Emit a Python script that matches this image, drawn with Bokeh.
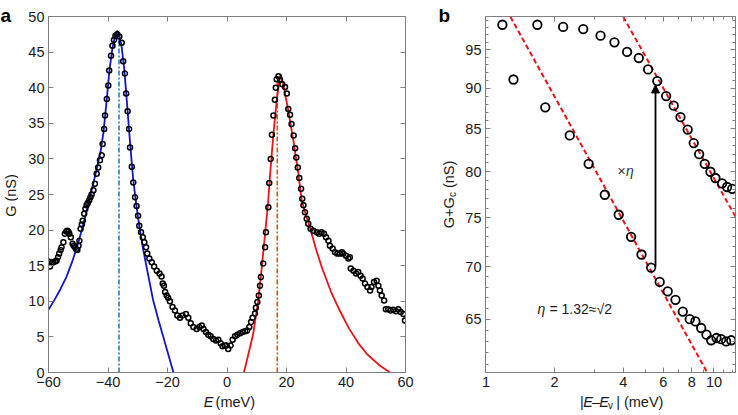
from math import pi, log10
from bokeh.plotting import figure
from bokeh.layouts import row, column
from bokeh.models import (Range1d, LinearAxis, LogAxis, FixedTicker, Label, Arrow,
                          NormalHead, CustomJSTickFormatter)
from bokeh.embed import file_html
from bokeh.resources import INLINE

FONT = "Liberation Sans"

# ---------------- panel a data ----------------
a_E = [-60.0, -59.5, -58.9, -58.4, -57.8, -57.3, -56.8, -56.4, -55.9, -55.6, -55.0, -54.5,
       -54.0, -53.7, -53.3, -53.0, -52.5, -51.9, -51.5, -51.1, -50.7, -50.3, -49.9, -49.6,
       -49.2, -48.8, -48.5, -48.0, -47.6, -47.2, -46.8, -46.3, -45.9, -45.5, -44.9, -44.4,
       -43.8, -43.3, -42.7, -42.1, -41.8, -41.3, -41.0, -40.4, -39.9, -39.6, -39.0, -38.5,
       -38.0, -37.5, -36.9, -36.2, -35.4, -34.9, -34.3, -33.9, -33.4, -32.9, -32.6, -32.0,
       -31.5, -30.9, -30.4, -29.9, -29.5, -28.9, -28.3, -27.8, -27.2, -26.8, -26.1, -25.3,
       -24.5, -23.6, -22.7, -22.0, -21.6, -21.2, -20.8, -20.3, -19.8, -19.2, -18.3, -17.5,
       -16.7, -15.8, -14.9, -13.8, -13.0, -12.2, -11.3, -10.2, -9.3, -8.5, -7.9, -7.1,
       -6.3, -5.5, -4.6, -3.7, -2.9, -2.1, -1.5, -0.7, -0.1, 0.4, 1.2, 1.9,
       2.7, 3.5, 4.4, 5.3, 6.1, 6.8, 7.5, 8.1, 8.6, 9.4, 9.7, 10.2,
       10.7, 11.1, 11.4, 12.2, 12.8, 13.1, 13.9, 14.2, 14.7, 15.1, 15.6, 16.1,
       16.4, 16.7, 17.3, 17.8, 18.6, 19.5, 20.1, 20.6, 21.2, 21.7, 22.4, 22.9,
       23.3, 23.8, 24.3, 24.9, 25.3, 25.7, 26.2, 26.8, 27.3, 28.1, 29.0, 30.2,
       31.0, 31.8, 32.6, 33.3, 34.1, 34.6, 35.5, 36.3, 37.1, 38.0, 38.6, 39.1,
       40.0, 40.8, 41.3, 41.6, 42.5, 43.4, 44.1, 44.9, 45.6, 46.4, 47.2, 48.1,
       48.6, 49.4, 50.3, 50.9, 51.4, 52.0, 52.8, 53.4, 54.2, 55.0, 55.9, 56.8,
       57.6, 58.4, 59.3, 59.8]
a_G = [15.6, 14.9, 15.4, 15.5, 15.6, 15.7, 16.2, 16.7, 17.2, 17.6, 18.3, 19.5,
       19.8, 19.9, 19.8, 19.5, 19.0, 18.1, 17.8, 17.6, 17.3, 17.2, 17.8, 18.5,
       20.2, 20.8, 21.3, 22.3, 23.0, 23.5, 23.8, 24.2, 24.6, 25.0, 25.6, 26.5,
       27.9, 28.8, 29.8, 30.5, 32.1, 34.2, 36.1, 38.4, 40.3, 42.4, 44.5, 45.9,
       46.7, 47.3, 47.5, 47.2, 46.3, 43.7, 42.0, 39.2, 36.7, 34.2, 31.6, 28.9,
       26.7, 24.6, 23.4, 22.0, 20.6, 19.7, 19.0, 18.3, 17.6, 16.7, 16.0, 15.5,
       14.9, 14.3, 13.9, 13.5, 12.5, 12.2, 11.3, 10.8, 10.5, 10.0, 9.2, 8.7,
       8.0, 7.7, 8.0, 8.2, 7.7, 6.9, 6.4, 6.1, 6.4, 6.6, 6.1, 5.7,
       5.3, 5.1, 4.7, 4.5, 4.6, 4.1, 3.7, 3.8, 3.8, 3.3, 3.8, 4.6,
       5.1, 5.3, 5.5, 5.7, 5.8, 5.9, 6.4, 7.1, 7.7, 8.3, 9.1, 9.9,
       10.8, 12.2, 13.4, 15.3, 17.6, 19.7, 23.2, 26.6, 30.0, 33.4, 36.1, 38.3,
       40.0, 41.2, 41.6, 41.1, 40.5, 40.1, 39.2, 37.0, 36.2, 34.9, 33.3, 31.5,
       30.2, 28.8, 27.3, 25.8, 24.4, 23.5, 22.5, 21.6, 20.9, 20.2, 19.9, 19.7,
       19.5, 19.7, 19.5, 19.0, 18.5, 17.8, 17.4, 16.9, 16.7, 16.7, 16.9, 16.7,
       16.4, 16.0, 16.2, 14.6, 14.3, 13.9, 14.1, 13.6, 13.2, 12.5, 12.0, 11.5,
       12.0, 12.7, 12.9, 12.2, 11.5, 10.8, 10.1, 8.9, 8.9, 8.7, 8.8, 8.6,
       8.9, 8.5, 8.2, 7.3]

blue_fit_E = [-60.0, -58.0, -56.0, -54.0, -52.0, -50.0, -48.0, -46.0, -44.0, -42.5, -41.5,
              -40.5, -39.5, -38.5, -37.6, -36.9, -36.3, -35.5, -34.5, -33.5, -32.5, -31.5,
              -30.5, -29.5, -28.1, -26.5, -24.8, -23.0, -21.4, -19.7, -18.0]
blue_fit_G = [8.8, 10.2, 11.7, 13.4, 15.6, 18.2, 21.3, 24.8, 28.2, 31.0, 33.8,
              38.0, 42.5, 45.6, 47.3, 48.0, 47.6, 46.0, 42.5, 37.2, 31.8, 27.0,
              23.6, 20.6, 17.1, 13.7, 10.1, 7.3, 5.0, 2.5, 0.0]
red_fit_E = [5.7, 7.2, 8.8, 10.5, 11.7, 12.8, 13.8, 14.5, 15.6, 16.7, 17.5, 18.0,
             18.9, 20.6, 22.3, 24.0, 25.1, 26.5, 28.0, 30.0, 32.0, 35.0, 38.0, 41.0,
             44.0, 47.0, 51.0, 54.8]
red_fit_G = [0.0, 2.6, 5.4, 10.1, 14.8, 19.5, 23.8, 27.9, 33.5, 38.2, 40.6, 41.9,
             40.5, 36.8, 32.6, 27.9, 24.2, 22.2, 20.2, 17.2, 14.6, 11.3, 8.6, 6.2,
             4.2, 2.6, 1.1, 0.0]
blue_vline_E = [-36.3, -36.3]
blue_vline_G = [0.0, 47.6]
red_vline_E = [16.9, 16.9]
red_vline_G = [0.0, 41.0]

a_xticks = [-60, -40, -20, 0, 20, 40, 60]
a_yticks = [0, 5, 10, 15, 20, 25, 30, 35, 40, 45, 50]

# ---------------- panel b data ----------------
b_upper_x = [1.18, 1.68, 2.18, 2.67, 3.18, 3.66, 4.16, 4.68, 5.14, 5.64, 6.17, 6.66,
             7.13, 7.67, 8.15, 8.61, 9.11, 9.65, 10.15, 10.86, 11.42, 12.02]
b_upper_y = [98.4, 98.4, 98.1, 97.8, 96.9, 96.0, 94.7, 93.9, 92.4, 90.9, 89.0, 87.8,
             86.4, 84.9, 83.3, 82.0, 80.9, 80.0, 79.3, 78.7, 78.3, 78.1]
b_lower_x = [1.32, 1.82, 2.33, 2.82, 3.32, 3.82, 4.33, 4.81, 5.30, 5.78, 6.27, 6.78,
             7.30, 7.83, 8.29, 8.79, 9.27, 9.72, 10.26, 10.75, 11.31, 11.90]
b_lower_y = [91.1, 87.6, 84.2, 80.9, 77.45, 75.3, 73.0, 71.2, 69.9, 68.5, 67.6, 66.8,
             65.7, 65.0, 64.8, 64.2, 63.6, 63.1, 63.3, 63.2, 63.0, 63.1]
b_fit_lower_x = [1.28, 9.34]
b_fit_lower_y = [99.5, 60.3]
b_fit_upper_x = [4.0, 12.43]
b_fit_upper_y = [99.5, 75.1]
b_arrow_x = 5.54
b_arrow_y0 = 70.0
b_arrow_y1 = 90.4

b_xticks = [1, 2, 4, 6, 8, 10]
b_xminor = [3, 5, 7, 9, 11, 12]
b_yticks = [65, 70, 75, 80, 85, 90, 95]
b_yminor = [v for v in range(61, 100) if v % 5 != 0]

AXC = "#7f7f7f"
TXT = "#1a1a1a"
D = 8  # canvas origin of the whole layout sits at (-8, -8) in page pixels


def style_axis(ax, ticks, minor=None, labels=True):
    ax.ticker = FixedTicker(ticks=ticks, minor_ticks=minor or [])
    ax.axis_line_color = AXC
    ax.major_tick_line_color = AXC
    ax.minor_tick_line_color = AXC
    ax.major_tick_in = 5
    ax.major_tick_out = 0
    ax.minor_tick_in = 3
    ax.minor_tick_out = 0
    ax.major_label_text_font = FONT
    ax.major_label_text_font_size = "14.5px"
    ax.major_label_text_color = TXT
    ax.major_label_standoff = 4
    if not labels:
        ax.formatter = CustomJSTickFormatter(code="return ''")
        ax.major_label_standoff = 0
        ax.major_label_text_font_size = "1px"


def text_fig(ox, oy, w, h):
    f = figure(width=w, height=h, x_range=Range1d(0, w), y_range=Range1d(0, h),
               output_backend="svg", toolbar_location=None, min_border=0,
               x_axis_location=None, y_axis_location=None)
    f.outline_line_color = None
    f.grid.visible = False
    f.background_fill_color = "white"
    f.border_fill_color = "white"
    f._ox, f._oy, f._h = ox, oy, h
    return f


def put(f, X, Y, text, size="14.5px", style="normal", align="left",
        baseline="middle", angle=0.0, color=TXT):
    f.add_layout(Label(x=X - f._ox, y=f._h - (Y - f._oy), text=text, text_font=FONT,
                       text_font_size=size, text_font_style=style, text_align=align,
                       text_baseline=baseline, angle=angle, text_color=color))


# ---------------- panel a ----------------
MA_X, MA_W = 18, 417
A_L, A_R, A_T, A_B = 48, 405, 16, 372
MA_H = 402
pa = figure(width=MA_W, height=MA_H, x_range=Range1d(-60, 60), y_range=Range1d(0, 50),
            output_backend="svg", toolbar_location=None,
            min_border_left=A_L - MA_X, min_border_right=MA_X + MA_W - A_R,
            min_border_top=A_T + D, min_border_bottom=MA_H - (A_B + D))
pa.grid.visible = False
pa.outline_line_color = AXC
style_axis(pa.xaxis[0], a_xticks)
style_axis(pa.yaxis[0], a_yticks)
ta = LinearAxis()
style_axis(ta, a_xticks, labels=False)
pa.add_layout(ta, "above")
ra = LinearAxis()
style_axis(ra, a_yticks, labels=False)
pa.add_layout(ra, "right")

pa.line(blue_vline_E, blue_vline_G, line_color="#1f7fc4", line_width=1.6, line_dash="5 2 2 2")
pa.line(red_vline_E, red_vline_G, line_color="#d9541a", line_width=1.6, line_dash="5 2 2 2")
pa.line(blue_fit_E, blue_fit_G, line_color="#1414c8", line_width=1.8)
pa.line(red_fit_E, red_fit_G, line_color="#e8141c", line_width=1.8)
pa.scatter(a_E, a_G, marker="circle", size=5, fill_color=None, line_color="black",
           line_width=1.5)

# text strips of panel a
sa = text_fig(-D, -D, MA_X + D, 415 + D)
put(sa, 0, 15, "a", size="19px", style="bold", baseline="alphabetic", color="black")
put(sa, 10, 195, "G (nS)", align="center", angle=pi / 2)
ba = text_fig(MA_X, MA_H - D, MA_W, 415 - (MA_H - D))
put(ba, 199.4, 401, "E", style="italic")
put(ba, 213.2, 401, "(meV)")

# ---------------- panel b ----------------
SB_X = 435
MB_X, MB_W = 460, 278
B_L, B_R, B_T, B_B = 485, 735, 16, 372
bx0, bx1 = 0.995, 12.43
by0, by1 = 60.3, 99.55
pb = figure(width=MB_W, height=MA_H, x_axis_type="log", y_axis_type="log",
            x_range=Range1d(bx0, bx1), y_range=Range1d(by0, by1),
            output_backend="svg", toolbar_location=None,
            min_border_left=B_L - MB_X, min_border_right=MB_X + MB_W - B_R,
            min_border_top=B_T + D, min_border_bottom=MA_H - (B_B + D))
pb.grid.visible = False
pb.outline_line_color = AXC
style_axis(pb.xaxis[0], b_xticks, b_xminor)
style_axis(pb.yaxis[0], b_yticks, b_yminor)
tb = LogAxis()
style_axis(tb, b_xticks, b_xminor, labels=False)
pb.add_layout(tb, "above")
rb = LogAxis()
style_axis(rb, b_yticks, b_yminor, labels=False)
pb.add_layout(rb, "right")

pb.line(b_fit_lower_x, b_fit_lower_y, line_color="#e8141c", line_width=2, line_dash="5 3")
pb.line(b_fit_upper_x, b_fit_upper_y, line_color="#e8141c", line_width=2, line_dash="5 3")
pb.scatter(b_upper_x, b_upper_y, marker="circle", size=8.5, fill_color=None,
           line_color="black", line_width=1.8)
pb.scatter(b_lower_x, b_lower_y, marker="circle", size=8.5, fill_color=None,
           line_color="black", line_width=1.8)
pb.add_layout(Arrow(end=NormalHead(size=8, fill_color="black", line_color="black", line_width=1),
                    x_start=b_arrow_x, y_start=b_arrow_y0, x_end=b_arrow_x, y_end=b_arrow_y1,
                    line_color="black", line_width=1.8))


def b_xy(X, Y):
    lx = log10(bx0) + (X - B_L) / (B_R - B_L) * (log10(bx1) - log10(bx0))
    ly = log10(by0) + (B_B - Y) / (B_B - B_T) * (log10(by1) - log10(by0))
    return (10 ** lx, 10 ** ly)


def put_b(X, Y, text, size="14px", style="normal", color=TXT):
    x, y = b_xy(X, Y)
    pb.add_layout(Label(x=x, y=y, text=text, text_font=FONT, text_font_size=size,
                        text_font_style=style, text_align="left", text_baseline="middle",
                        text_color=color))


put_b(617, 170, "\u00d7", color="#333333")
put_b(625.5, 170, "\u03b7", style="italic", color="#333333")
put_b(537, 308, "\u03b7", style="italic")
put_b(549, 308, "= 1.32\u2248\u221a2")

# text strips of panel b
sb = text_fig(SB_X, -D, MB_X - SB_X, 415 + D)
put(sb, 438, 15, "b", size="19px", style="bold", baseline="alphabetic", color="black")
put(sb, 448, 227.7, "G+G", angle=pi / 2)
put(sb, 452, 196.6, "c", size="10px", angle=pi / 2)
put(sb, 448, 187.6, "(nS)", angle=pi / 2)
bb = text_fig(MB_X, MA_H - D, MB_W, 415 - (MA_H - D))
put(bb, 565, 401, "|")
put(bb, 568.8, 401, "E", style="italic")
put(bb, 578.5, 401, "\u2013")
put(bb, 586.6, 401, "E", style="italic")
put(bb, 596.3, 405, "v", size="10px")
put(bb, 605.3, 401, "| (meV)")

layout = row(sa, column(pa, ba), sb, column(pb, bb), margin=(-8, -8, -8, -8))
open("out.html", "w").write(file_html(layout, INLINE))
